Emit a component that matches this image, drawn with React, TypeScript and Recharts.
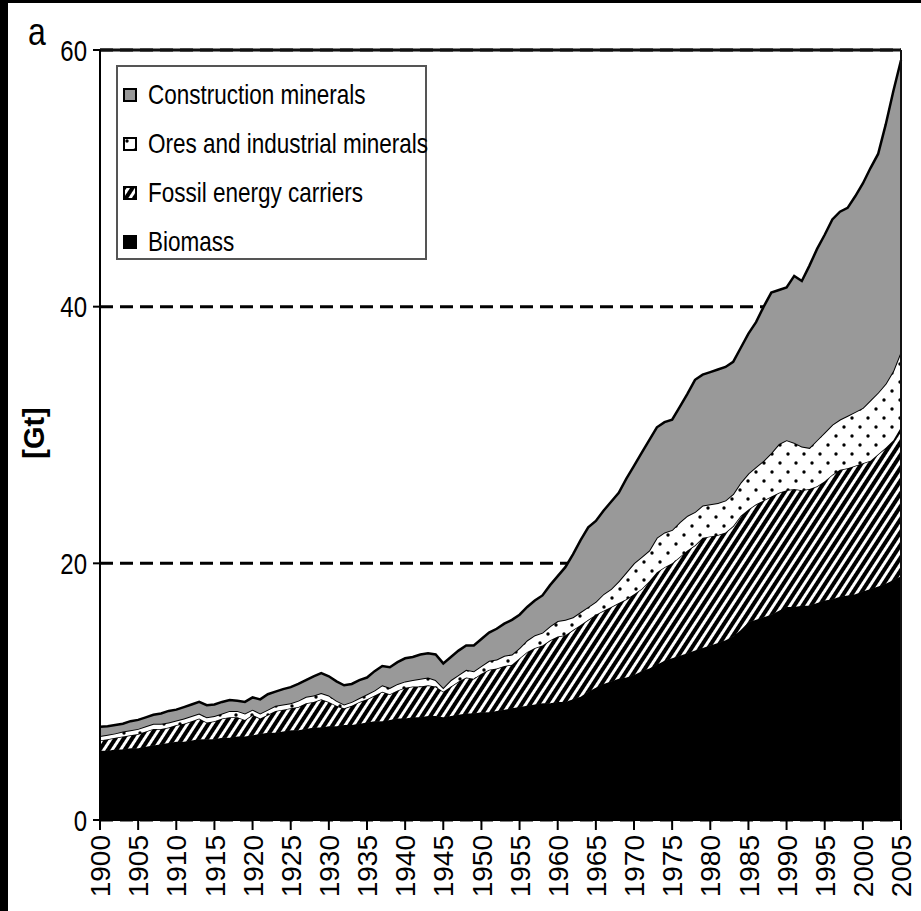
import { AreaChart, Area, XAxis, YAxis, CartesianGrid, Legend, ReferenceLine } from "recharts";

// years on the x axis
const years = [
  1900, 1901, 1902, 1903, 1904, 1905, 1906, 1907, 1908, 1909,
  1910, 1911, 1912, 1913, 1914, 1915, 1916, 1917, 1918, 1919,
  1920, 1921, 1922, 1923, 1924, 1925, 1926, 1927, 1928, 1929,
  1930, 1931, 1932, 1933, 1934, 1935, 1936, 1937, 1938, 1939,
  1940, 1941, 1942, 1943, 1944, 1945, 1946, 1947, 1948, 1949,
  1950, 1951, 1952, 1953, 1954, 1955, 1956, 1957, 1958, 1959,
  1960, 1961, 1962, 1963, 1964, 1965, 1966, 1967, 1968, 1969,
  1970, 1971, 1972, 1973, 1974, 1975, 1976, 1977, 1978, 1979,
  1980, 1981, 1982, 1983, 1984, 1985, 1986, 1987, 1988, 1989,
  1990, 1991, 1992, 1993, 1994, 1995, 1996, 1997, 1998, 1999,
  2000, 2001, 2002, 2003, 2004, 2005,
];

// upper edge of each band [Gt]
const biomassTop = [
  5.4, 5.4, 5.5, 5.5, 5.6, 5.6, 5.7, 5.8, 5.9, 6.0,
  6.1, 6.1, 6.2, 6.3, 6.3, 6.3, 6.4, 6.4, 6.5, 6.5,
  6.6, 6.7, 6.8, 6.8, 6.9, 7.0, 7.0, 7.1, 7.2, 7.2,
  7.3, 7.3, 7.4, 7.4, 7.5, 7.6, 7.7, 7.7, 7.8, 7.9,
  7.9, 8.0, 8.0, 8.1, 8.1, 8.0, 8.1, 8.2, 8.3, 8.3,
  8.4, 8.4, 8.5, 8.6, 8.7, 8.8, 8.9, 9.0, 9.1, 9.1,
  9.2, 9.2, 9.4, 9.6, 10.0, 10.3, 10.6, 10.8, 11.0, 11.1,
  11.3, 11.6, 11.8, 12.1, 12.4, 12.6, 12.8, 13.0, 13.2, 13.4,
  13.6, 13.8, 14.0, 14.3, 14.8, 15.4, 15.6, 15.8, 16.0, 16.3,
  16.6, 16.6, 16.7, 16.7, 16.9, 17.1, 17.2, 17.4, 17.5, 17.6,
  17.8, 18.0, 18.2, 18.4, 18.7, 19.0,
];

const fossilTop = [
  6.2, 6.3, 6.4, 6.5, 6.6, 6.7, 6.9, 7.1, 7.1, 7.2,
  7.4, 7.5, 7.7, 7.9, 7.6, 7.7, 7.9, 8.0, 8.0, 7.8,
  8.2, 7.9, 8.2, 8.5, 8.6, 8.7, 8.8, 9.1, 9.2, 9.4,
  9.2, 8.9, 8.7, 8.9, 9.2, 9.4, 9.7, 10.0, 9.8, 10.1,
  10.3, 10.4, 10.4, 10.5, 10.4, 10.0, 10.4, 10.8, 11.1, 11.0,
  11.4, 11.7, 11.8, 12.0, 12.1, 12.6, 13.1, 13.4, 13.6, 14.0,
  14.3, 14.4, 14.8, 15.2, 15.6, 16.0, 16.3, 16.6, 16.9, 17.2,
  17.6, 18.0, 18.6, 19.3, 19.7, 20.0, 20.5, 21.0, 21.4, 22.0,
  22.1, 22.2, 22.4, 22.9, 23.7, 24.2, 24.6, 24.9, 25.2, 25.5,
  25.7, 25.8, 25.7, 25.8, 26.0, 26.4, 26.9, 27.3, 27.4, 27.6,
  27.8, 28.0, 28.5, 29.0, 29.6, 30.6,
];

const oresTop = [
  6.55, 6.65, 6.75, 6.9, 7.0, 7.1, 7.3, 7.5, 7.5, 7.6,
  7.75, 7.9, 8.1, 8.3, 8.0, 8.1, 8.3, 8.5, 8.5, 8.3,
  8.6, 8.3, 8.6, 8.9, 9.0, 9.1, 9.3, 9.6, 9.7, 9.9,
  9.7, 9.3, 9.0, 9.2, 9.5, 9.8, 10.1, 10.5, 10.3, 10.6,
  10.8, 10.9, 11.0, 11.1, 10.9, 10.3, 10.9, 11.3, 11.7, 11.6,
  12.0, 12.4, 12.5, 12.8, 12.9, 13.4, 14.0, 14.4, 14.6, 15.1,
  15.5, 15.6, 15.8, 16.2, 16.6, 17.0, 17.6, 18.0, 18.6, 19.3,
  20.0, 20.5, 21.0, 22.0, 22.4, 22.6, 23.2, 23.7, 24.0, 24.5,
  24.6, 24.7, 24.9, 25.4, 26.3, 27.0, 27.5, 28.0, 28.6, 29.3,
  29.6, 29.4, 29.1, 29.0, 29.6, 30.2, 30.8, 31.2, 31.5, 31.8,
  32.1, 32.7, 33.3, 34.0, 35.0, 36.5,
];

const totalTop = [
  7.26, 7.3, 7.4, 7.5, 7.7, 7.8, 8.0, 8.2, 8.3, 8.5,
  8.6, 8.8, 9.0, 9.2, 8.95, 9.0, 9.2, 9.35, 9.3, 9.2,
  9.55, 9.4, 9.8, 10.0, 10.2, 10.35, 10.6, 10.9, 11.2, 11.45,
  11.2, 10.8, 10.5, 10.6, 10.9, 11.1, 11.6, 12.0, 11.9, 12.3,
  12.6, 12.7, 12.9, 13.0, 12.9, 12.2, 12.7, 13.2, 13.6, 13.6,
  14.1, 14.6, 14.9, 15.3, 15.6, 16.0, 16.6, 17.1, 17.5, 18.3,
  19.0, 19.7, 20.7, 21.8, 22.8, 23.3, 24.1, 24.8, 25.5, 26.6,
  27.6, 28.6, 29.6, 30.6, 31.0, 31.2, 32.2, 33.2, 34.3, 34.7,
  34.9, 35.1, 35.3, 35.7, 36.8, 37.9, 38.8, 40.0, 41.1, 41.3,
  41.5, 42.4, 42.0, 43.2, 44.5, 45.6, 46.8, 47.4, 47.7, 48.6,
  49.6, 50.8, 51.9, 54.2, 56.8, 59.2,
];

const xTicks = [
  1900, 1905, 1910, 1915, 1920, 1925, 1930, 1935, 1940, 1945, 1950,
  1955, 1960, 1965, 1970, 1975, 1980, 1985, 1990, 1995, 2000, 2005,
];
const yTicks = [0, 20, 40, 60];

const data = years.map((year, i) => ({
  year,
  biomass: biomassTop[i],
  fossil: +(fossilTop[i] - biomassTop[i]).toFixed(2),
  ores: +(oresTop[i] - fossilTop[i]).toFixed(2),
  construction: +(totalTop[i] - oresTop[i]).toFixed(2),
}));

const FONT = "'Liberation Sans', Arial, Helvetica, sans-serif";
const GREY = "#999999";

const fills: Record<string, string> = {
  construction: GREY,
  ores: "url(#dots)",
  fossil: "url(#hatch)",
  biomass: "#000",
};

const legendOrder = ["construction", "ores", "fossil", "biomass"];

const YTick = ({ x, y, payload }: any) => (
  <g transform={`translate(${x},${y}) scale(1,1.22)`}>
    <text x={0} y={0} dy="0.36em" textAnchor="end" fontSize={24} fill="#000" fontFamily={FONT}>
      {payload.value}
    </text>
  </g>
);

const XTick = ({ x, y, payload }: any) => (
  <text
    x={x}
    y={y}
    transform={`rotate(-90, ${x}, ${y})`}
    textAnchor="end"
    dy="0.36em"
    fontSize={28}
    fill="#000"
    fontFamily={FONT}
  >
    {payload.value}
  </text>
);

const LegendBox = ({ payload }: any) => {
  const items = [...(payload ?? [])].sort(
    (a: any, b: any) => legendOrder.indexOf(a.dataKey) - legendOrder.indexOf(b.dataKey)
  );
  return (
    <div
      style={{
        boxSizing: "border-box",
        width: 311,
        height: 195,
        border: "2px solid #555",
        background: "#fff",
        paddingTop: 3,
        fontFamily: FONT,
      }}
    >
      {items.map((entry: any) => (
        <div key={entry.dataKey} style={{ display: "flex", alignItems: "center", height: 49 }}>
          <svg width={14} height={14} style={{ marginLeft: 5, marginRight: 11, flex: "none" }}>
            <rect x={1} y={1} width={12} height={12} fill={fills[entry.dataKey]} stroke="#000" strokeWidth={2} />
          </svg>
          <span
            style={{
              fontSize: 22.5,
              color: "#000",
              whiteSpace: "nowrap",
              display: "inline-block",
              transform: "scaleY(1.22)",
            }}
          >
            {entry.value}
          </span>
        </div>
      ))}
    </div>
  );
};

export default function App() {
  return (
    <div style={{ position: "fixed", left: 0, top: 0, width: 921, height: 911, background: "#fff", overflow: "hidden" }}>
      <div style={{ position: "absolute", left: 0, top: 0 }}>
        <AreaChart width={921} height={911} data={data} margin={{ top: 50, right: 20, bottom: 0, left: 0 }}>
          <defs>
            <pattern id="hatch" width="7" height="7" patternUnits="userSpaceOnUse" patternTransform="rotate(33)">
              <rect width="7" height="7" fill="#fff" />
              <rect width="4" height="7" fill="#000" />
            </pattern>
            <pattern id="dots" width="16" height="18" patternUnits="userSpaceOnUse">
              <rect width="16" height="18" fill="#fff" />
              <circle cx="4" cy="4" r="1.7" fill="#000" />
              <circle cx="12" cy="13" r="1.7" fill="#000" />
            </pattern>
          </defs>
          <CartesianGrid vertical={false} stroke="#000" strokeWidth={3} strokeDasharray="13 7" />
          <XAxis
            dataKey="year"
            type="number"
            domain={[1900, 2005]}
            ticks={xTicks}
            interval={0}
            height={91}
            tickSize={10}
            tickMargin={5}
            tick={<XTick />}
            axisLine={{ stroke: "#000", strokeWidth: 2 }}
            tickLine={{ stroke: "#000", strokeWidth: 2 }}
          />
          <YAxis
            type="number"
            domain={[0, 60]}
            ticks={yTicks}
            width={100}
            tickSize={7}
            tickMargin={6}
            tick={<YTick />}
            axisLine={{ stroke: "#000", strokeWidth: 2 }}
            tickLine={{ stroke: "#000", strokeWidth: 2 }}
          />
          <Legend
            layout="vertical"
            align="center"
            verticalAlign="middle"
            content={<LegendBox />}
            wrapperStyle={{ left: 116, top: 65, width: 311, height: 195 }}
          />
          <Area type="linear" dataKey="biomass" name="Biomass" stackId="1" fill={fills.biomass} fillOpacity={1} stroke="#000" strokeWidth={1} isAnimationActive={false} dot={false} activeDot={false} />
          <Area type="linear" dataKey="fossil" name="Fossil energy carriers" stackId="1" fill={fills.fossil} fillOpacity={1} stroke="#000" strokeWidth={1.5} isAnimationActive={false} dot={false} activeDot={false} />
          <Area type="linear" dataKey="ores" name="Ores and industrial minerals" stackId="1" fill={fills.ores} fillOpacity={1} stroke="#000" strokeWidth={2} isAnimationActive={false} dot={false} activeDot={false} />
          <Area type="linear" dataKey="construction" name="Construction minerals" stackId="1" fill={fills.construction} fillOpacity={1} stroke="#000" strokeWidth={2.5} isAnimationActive={false} dot={false} activeDot={false} />
          <ReferenceLine y={60} stroke="#111" strokeWidth={3} />
          <ReferenceLine x={2005} stroke="#111" strokeWidth={2} />
        </AreaChart>
      </div>
      <svg width={921} height={911} style={{ position: "absolute", left: 0, top: 0, pointerEvents: "none" }}>
        <g transform="translate(28,45) scale(1,1.22)">
          <text x={0} y={0} fontSize={32} fontFamily={FONT} fill="#000">a</text>
        </g>
        <text
          x={34}
          y={433}
          transform="rotate(-90, 34, 433)"
          textAnchor="middle"
          dy="0.36em"
          fontSize={29}
          fontWeight="bold"
          fontFamily={FONT}
          fill="#000"
        >
          [Gt]
        </text>
      </svg>
      <div style={{ position: "absolute", left: 0, top: 0, width: 8, height: 911, background: "#000" }} />
      <div style={{ position: "absolute", left: 0, top: 0, width: 921, height: 3, background: "#000" }} />
    </div>
  );
}
